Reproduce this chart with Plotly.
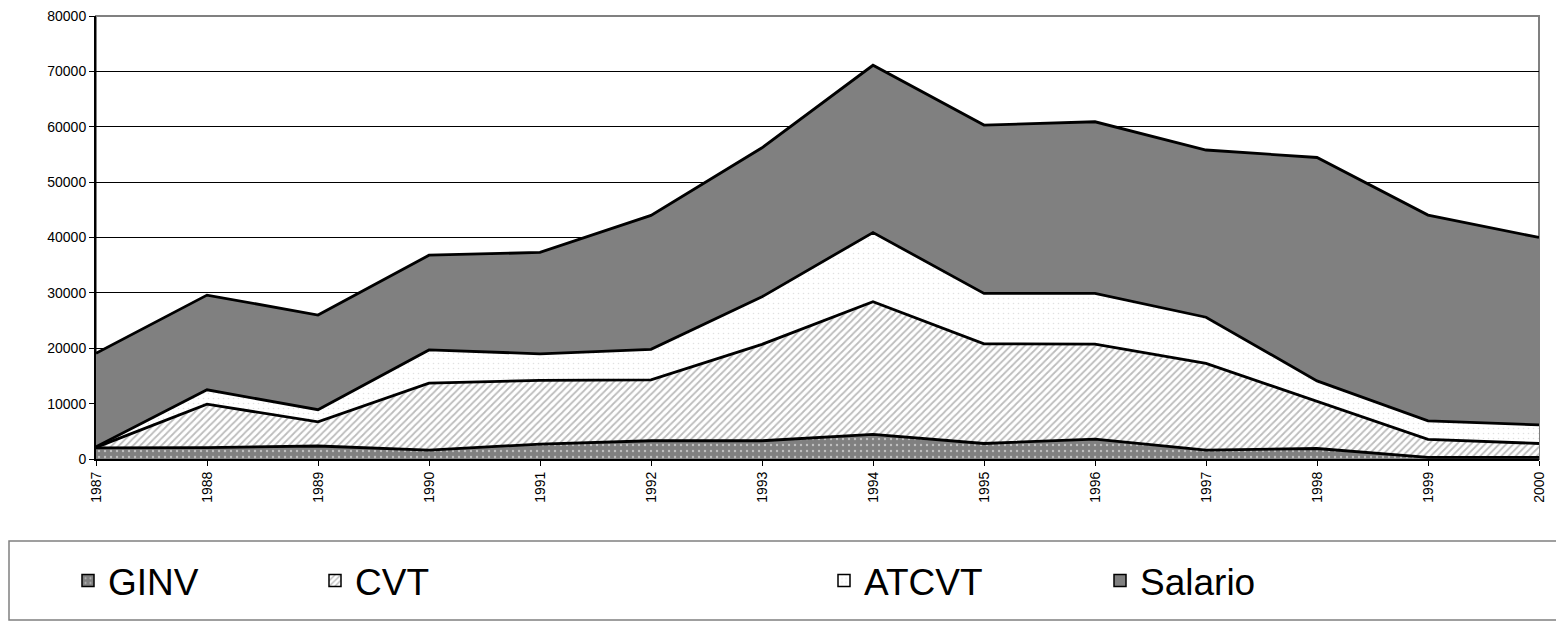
import plotly.graph_objects as go

# --- dados (valores empilhados por série) ---
anos = [1987, 1988, 1989, 1990, 1991, 1992, 1993, 1994, 1995, 1996, 1997, 1998, 1999, 2000]
ginv = [2000, 2050, 2350, 1600, 2700, 3300, 3300, 4450, 2800, 3600, 1600, 1900, 300, 300]
cvt = [100, 7850, 4350, 12100, 11500, 11000, 17400, 23950, 18000, 17150, 15650, 8450, 3250, 2500]
atcvt = [100, 2600, 2200, 6000, 4800, 5500, 8600, 12500, 9100, 9150, 8350, 3750, 3350, 3350]
salario = [16900, 17100, 17100, 17100, 18300, 24200, 26900, 30200, 30400, 31000, 30200, 40350, 37150, 33850]
y_ticks = [0, 10000, 20000, 30000, 40000, 50000, 60000, 70000, 80000]

FONTE = "Liberation Sans, Arial, sans-serif"
CINZA = "#808080"

# a página tem 8px de margem no body: a figura é 8px menor e tudo é deslocado
W, H = 1556, 613
ESQ, TOPO, LARG, ALT = 88, 8, 1443, 443   # área de plotagem em px da figura

# (nome, valores, cor de fundo, padrão, posição da legenda em px)
series = [
    ("GINV", ginv, CINZA, dict(shape=".", fgcolor="white", bgcolor=CINZA, size=6, solidity=0.12), 60),
    ("CVT", cvt, "white", dict(shape="/", fgcolor="#7a7a7a", bgcolor="white", size=5, solidity=0.35), 307),
    ("ATCVT", atcvt, "white", dict(shape=".", fgcolor="#c4c4c4", bgcolor="white", size=5, solidity=0.08), 816),
    ("Salario", salario, CINZA, None, 1092),
]

fig = go.Figure()

# --- áreas empilhadas ---
for nome, valores, cor, padrao, _ in series:
    kw = dict(fillpattern=padrao) if padrao else {}
    fig.add_trace(go.Scatter(
        x=anos, y=valores, name=nome,
        mode="lines", stackgroup="um",
        line=dict(color="black", width=2.8),
        fillcolor=cor, showlegend=False, hoverinfo="x+y+name",
        **kw
    ))

# --- legenda: um item por legenda para reproduzir o espaçamento ---
for i, (nome, _, cor, padrao, xpx) in enumerate(series):
    leg = "legend" if i == 0 else f"legend{i + 1}"
    marker = dict(color=cor, line=dict(color="black", width=1.5))
    if padrao:
        marker["pattern"] = padrao
    fig.add_trace(go.Bar(x=[None], y=[None], name=nome, marker=marker,
                         legend=leg, showlegend=True))
    fig.update_layout({leg: dict(
        x=xpx / W, xref="container", xanchor="left",
        y=1 - 573 / H, yref="container", yanchor="middle",
        bgcolor="rgba(0,0,0,0)", borderwidth=0,
        font=dict(family=FONTE, size=37, color="black"),
    )})

# moldura da área de plotagem e caixa da legenda
fig.add_shape(type="rect", xref="paper", yref="paper", x0=0, x1=1, y0=0, y1=1,
              line=dict(color=CINZA, width=2), layer="below")
fig.add_shape(type="rect", xref="paper", yref="paper",
              x0=(1 - ESQ) / LARG, x1=(1555 - ESQ) / LARG,
              y0=(451 - 612) / ALT, y1=(451 - 533) / ALT,
              line=dict(color=CINZA, width=1.5))

fig.update_layout(
    width=W, height=H,
    margin=dict(l=ESQ, r=W - ESQ - LARG, t=TOPO, b=H - TOPO - ALT, autoexpand=False),
    paper_bgcolor="white", plot_bgcolor="white",
    font=dict(family=FONTE, size=14, color="black"),
    barmode="overlay",
    xaxis=dict(
        range=[anos[0], anos[-1]], tickvals=anos, ticktext=[str(a) for a in anos],
        tickangle=-90, showgrid=False, zeroline=False,
        showline=True, linecolor="black", linewidth=2,
        ticks="outside", ticklen=5, tickcolor="black",
        ticklabeloverflow="allow",
    ),
    yaxis=dict(
        range=[0, 80000], tickvals=y_ticks, ticktext=[str(v) for v in y_ticks],
        showgrid=True, gridcolor="black", gridwidth=1, zeroline=False,
        showline=True, linecolor="black", linewidth=2,
        ticks="outside", ticklen=5, tickcolor="black",
        ticklabeloverflow="allow",
    ),
)

fig.write_html("out.html")
